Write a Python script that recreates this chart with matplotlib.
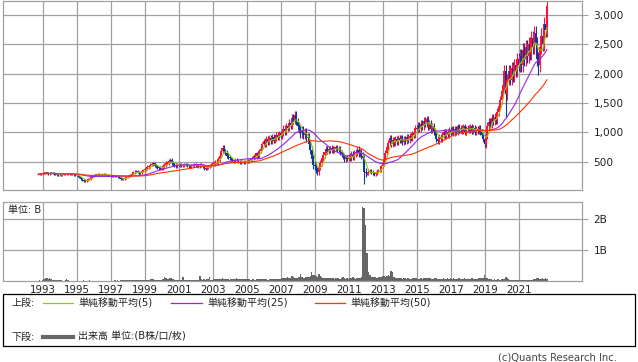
import numpy as np
import pandas as pd
import matplotlib
matplotlib.use('Agg')
import matplotlib.pyplot as plt
from matplotlib.patches import Rectangle
from matplotlib.lines import Line2D

plt.rcParams['font.family'] = ['DejaVu Sans', 'Noto Sans CJK JP']

# ---------------- data (monthly, Sep 1992 - Aug 2022) ----------------
start_year, start_month = 1992, 9

close = [
    285, 295, 290, 300,                                                   # 1992 Sep-Dec
    305, 315, 300, 295, 310, 305, 300, 290, 280, 275, 270, 265,           # 1993
    270, 285, 290, 280, 285, 295, 290, 285, 280, 275, 270, 265,           # 1994
    250, 230, 210, 190, 175, 165, 180, 200, 210, 230, 250, 260,           # 1995
    270, 285, 290, 280, 285, 280, 290, 280, 270, 265, 260, 255,           # 1996
    260, 255, 250, 245, 240, 235, 210, 195, 205, 220, 235, 250,           # 1997
    260, 275, 290, 315, 330, 345, 320, 300, 310, 335, 350, 375,           # 1998
    380, 410, 420, 450, 460, 470, 430, 420, 400, 390, 380, 395,           # 1999
    420, 440, 470, 480, 510, 520, 480, 460, 450, 430, 440, 440,           # 2000
    450, 430, 440, 460, 450, 440, 420, 410, 430, 440, 460, 440,           # 2001
    430, 420, 450, 430, 410, 390, 380, 400, 420, 440, 450, 470,           # 2002
    470, 480, 500, 540, 600, 680, 740, 680, 650, 600, 580, 560,           # 2003
    540, 520, 510, 530, 520, 500, 490, 500, 510, 490, 500, 510,           # 2004
    500, 520, 540, 560, 600, 580, 640, 600, 680, 720, 800, 860,           # 2005
    800, 880, 830, 900, 850, 920, 860, 900, 950, 920, 980, 950,           # 2006
    1000, 1060, 1020, 1100, 1080, 1160, 1120, 1250, 1200, 1300, 1180, 1100,  # 2007
    1050, 980, 1040, 960, 1000, 900, 920, 800, 700, 550, 450, 420,        # 2008
    350, 330, 400, 470, 560, 620, 660, 720, 680, 720, 690, 730,           # 2009
    690, 720, 750, 700, 720, 660, 620, 580, 540, 580, 550, 580,           # 2010
    570, 620, 580, 640, 660, 700, 640, 660, 600, 560, 330, 300,           # 2011
    300, 330, 340, 320, 300, 290, 310, 330, 350, 360, 420, 480,           # 2012
    520, 650, 750, 820, 900, 800, 870, 820, 880, 830, 900, 870,           # 2013
    900, 830, 880, 850, 920, 870, 930, 900, 980, 950, 1080, 1050,         # 2014
    1120, 1060, 1150, 1100, 1200, 1150, 1220, 1100, 1150, 1050, 1100, 1020,  # 2015
    980, 880, 850, 920, 880, 960, 1000, 940, 1000, 960, 1040, 1000,       # 2016
    1050, 980, 1060, 1000, 1100, 1040, 1080, 1020, 1100, 1000, 1060, 1080,  # 2017
    1040, 1100, 1020, 1080, 1000, 1060, 1020, 1080, 1000, 950, 880, 800,  # 2018
    950, 1100, 1180, 1150, 1250, 1200, 1260, 1220, 1350, 1450, 1550, 1700,  # 2019
    1800, 2050, 1650, 1900, 2050, 1900, 2100, 1950, 2150, 2050, 2250, 2150,  # 2020
    2300, 2150, 2400, 2250, 2450, 2300, 2500, 2350, 2600, 2450, 2700, 2500,  # 2021
    2250, 2150, 2450, 2650, 2500, 2850, 2750, 3150,                       # 2022 Jan-Aug
]

# typical wick length beyond the candle body, per year (yen), 1992..2022
wick_years = list(range(1992, 2023))
wick_len = [10, 15, 15, 15, 10, 15, 20, 30, 35, 25, 25, 40, 25, 30, 50, 60,
            70, 50, 40, 60, 30, 50, 50, 60, 50, 50, 50, 70, 100, 120, 120]

# notable wick extremes (year, month): value
wick_high = {(1999, 6): 480, (2000, 7): 557, (2003, 7): 766, (2007, 10): 1330,
             (2015, 7): 1250, (2020, 2): 2150, (2021, 11): 2740, (2022, 8): 3160}
wick_low = {(1995, 6): 150, (2009, 2): 310, (2011, 11): 110, (2018, 12): 750,
            (2020, 3): 1260, (2022, 2): 1980}

# volume in billions
volume_b = [
    0.03, 0.04, 0.03, 0.04,
    0.08, 0.10, 0.10, 0.09, 0.10, 0.08, 0.06, 0.05, 0.05, 0.05, 0.04, 0.04,
    0.04, 0.03, 0.03, 0.06, 0.07, 0.04, 0.03, 0.02, 0.02, 0.02, 0.02, 0.02,
    0.02, 0.02, 0.02, 0.02, 0.04, 0.03, 0.02, 0.03, 0.04, 0.03, 0.02, 0.02,
    0.02, 0.03, 0.03, 0.02, 0.02, 0.03, 0.02, 0.02, 0.03, 0.02, 0.02, 0.02,
    0.02, 0.03, 0.04, 0.03, 0.04, 0.03, 0.04, 0.05, 0.04, 0.05, 0.05, 0.04,
    0.04, 0.04, 0.04, 0.05, 0.05, 0.05, 0.05, 0.06, 0.05, 0.06, 0.06, 0.06,
    0.05, 0.06, 0.05, 0.07, 0.09, 0.07, 0.06, 0.05, 0.05, 0.06, 0.05, 0.06,
    0.08, 0.14, 0.10, 0.08, 0.07, 0.10, 0.12, 0.07, 0.06, 0.06, 0.05, 0.05,
    0.05, 0.05, 0.14, 0.05, 0.05, 0.06, 0.05, 0.05, 0.05, 0.05, 0.05, 0.05,
    0.05, 0.05, 0.17, 0.08, 0.06, 0.07, 0.06, 0.07, 0.07, 0.14, 0.06, 0.06,
    0.07, 0.07, 0.07, 0.08, 0.09, 0.08, 0.10, 0.08, 0.07, 0.07, 0.07, 0.06,
    0.08, 0.07, 0.07, 0.09, 0.10, 0.08, 0.08, 0.07, 0.07, 0.08, 0.09, 0.08,
    0.07, 0.07, 0.06, 0.07, 0.07, 0.06, 0.07, 0.07, 0.08, 0.09, 0.08, 0.07,
    0.07, 0.07, 0.06, 0.07, 0.07, 0.07, 0.07, 0.08, 0.07, 0.08, 0.08, 0.09,
    0.10, 0.12, 0.10, 0.12, 0.14, 0.12, 0.13, 0.18, 0.14, 0.12, 0.11, 0.12,
    0.14, 0.23, 0.16, 0.13, 0.12, 0.14, 0.15, 0.16, 0.18, 0.30, 0.22, 0.20,
    0.18, 0.16, 0.23, 0.18, 0.14, 0.12, 0.10, 0.11, 0.10, 0.10, 0.12, 0.10,
    0.10, 0.09, 0.10, 0.12, 0.10, 0.09, 0.10, 0.14, 0.10, 0.09, 0.10, 0.09,
    0.10, 0.12, 0.15, 0.10, 0.09, 0.10, 0.13, 0.12, 0.15, 2.37, 2.35, 1.80,
    0.90, 0.30, 0.20, 0.16, 0.15, 0.14, 0.15, 0.13, 0.14, 0.16, 0.15, 0.18,
    0.17, 0.16, 0.18, 0.20, 0.18, 0.33, 0.30, 0.15, 0.12, 0.11, 0.10, 0.10,
    0.10, 0.09, 0.11, 0.12, 0.09, 0.10, 0.09, 0.08, 0.11, 0.10, 0.10, 0.10,
    0.09, 0.08, 0.10, 0.09, 0.10, 0.10, 0.10, 0.11, 0.10, 0.10, 0.09, 0.09,
    0.10, 0.11, 0.09, 0.08, 0.09, 0.08, 0.10, 0.09, 0.09, 0.10, 0.09, 0.10,
    0.09, 0.10, 0.09, 0.08, 0.09, 0.10, 0.09, 0.09, 0.08, 0.10, 0.09, 0.09,
    0.08, 0.09, 0.10, 0.09, 0.08, 0.09, 0.09, 0.10, 0.10, 0.12, 0.13, 0.20,
    0.13, 0.10, 0.08, 0.07, 0.07, 0.06, 0.07, 0.06, 0.07, 0.07, 0.06, 0.07,
    0.07, 0.09, 0.15, 0.10, 0.07, 0.06, 0.06, 0.06, 0.06, 0.06, 0.06, 0.06,
    0.06, 0.06, 0.05, 0.06, 0.06, 0.06, 0.05, 0.06, 0.06, 0.06, 0.07, 0.09,
    0.13, 0.11, 0.08, 0.07, 0.10, 0.08, 0.10, 0.08,
]

ma_windows = [5, 25, 50]
ma_labels = ['単純移動平均(5)', '単純移動平均(25)', '単純移動平均(50)']
ma_colors = ['#99cc00', '#9922ee', '#ff3300']
year_ticks = list(range(1993, 2022, 2))
price_ticks = [500, 1000, 1500, 2000, 2500, 3000]
vol_ticks = [1, 2]
vol_tick_labels = ['1B', '2B']

# ---------------- figure ----------------
W, H = 638, 362
fig = plt.figure(figsize=(W / 100, H / 100), dpi=100)
fig.patch.set_facecolor('white')

def ax_rect(x0, y0, x1, y1):
    return [x0 / W, 1 - y1 / H, (x1 - x0) / W, (y1 - y0) / H]

ax = fig.add_axes(ax_rect(3.3, 0.7, 582.3, 190.3))
axv = fig.add_axes(ax_rect(3.3, 201.7, 582.3, 280.5))

n = len(close)
yrs, mos = [], []
y, m = start_year, start_month
for i in range(n):
    yrs.append(y); mos.append(m)
    m += 1
    if m > 12:
        m = 1; y += 1
xs = np.array([yy + (mm - 1) / 12 + 1 / 24 for yy, mm in zip(yrs, mos)])
c = np.array(close, dtype=float)
o = np.concatenate([[c[0]], c[:-1]])
wl = dict(zip(wick_years, wick_len))
hi = np.array([max(a, b) + wl[yy] for a, b, yy in zip(o, c, yrs)])
lo = np.array([min(a, b) - wl[yy] for a, b, yy in zip(o, c, yrs)])
for i, (yy, mm) in enumerate(zip(yrs, mos)):
    if (yy, mm) in wick_high:
        hi[i] = max(hi[i], wick_high[(yy, mm)])
    if (yy, mm) in wick_low:
        lo[i] = min(lo[i], wick_low[(yy, mm)])

grid_c = '#a0a0a0'
up_c, dn_c = '#ff1040', '#0a3a9e'
for a in (ax, axv):
    a.set_xlim(1990.647, 2024.706)
    for s in a.spines.values():
        s.set_color(grid_c)
        s.set_linewidth(0.9)
    a.set_facecolor('white')
    for yt in year_ticks:
        a.axvline(yt, color=grid_c, lw=0.9, zorder=0)

ax.set_ylim(11, 3244)
for pt in price_ticks:
    ax.axhline(pt, color=grid_c, lw=0.9, zorder=0)

cols = np.where(c >= o, up_c, dn_c)
ax.vlines(xs, lo, hi, colors=cols, lw=0.8, zorder=2)
body_h = np.maximum(np.abs(c - o), 8)
ax.bar(xs, body_h, bottom=np.minimum(o, c), width=1 / 12 * 1.5,
       color=cols, linewidth=0, zorder=2)

s = pd.Series(c)
for w, col in zip(ma_windows, ma_colors):
    ma = s.rolling(w, min_periods=1).mean()
    ax.plot(xs, ma, color=col, lw=0.8, zorder=3)

ax.yaxis.tick_right()
ax.set_yticks(price_ticks)
ax.set_yticklabels([f'{v:,}' for v in price_ticks])
ax.tick_params(axis='y', length=4, width=0.8, color=grid_c, pad=4, labelsize=7.6, labelcolor='#222222')
ax.set_xticks([])

# volume
axv.bar(xs, volume_b, width=1 / 12, color='#666666', linewidth=0, zorder=2)
axv.set_ylim(0.035, 2.553)
for vt in vol_ticks:
    axv.axhline(vt, color=grid_c, lw=0.9, zorder=0)
axv.yaxis.tick_right()
axv.set_yticks(vol_ticks)
axv.set_yticklabels(vol_tick_labels)
axv.tick_params(axis='y', length=4, width=0.8, color=grid_c, pad=4, labelsize=7.6, labelcolor='#222222')
axv.set_xticks(year_ticks)
axv.set_xticklabels([str(t) for t in year_ticks])
axv.tick_params(axis='x', length=0, pad=3.5, labelsize=7.4, labelcolor='#222222')

def fx(px):
    return px / W

def fy(py):
    return 1 - py / H

fig.text(fx(8), fy(210), '単位: B', fontsize=7.2, color='#222222', va='center', ha='left')

# legend box
fig.add_artist(Rectangle((fx(3.3), fy(345.7)), fx(635.3) - fx(3.3), fy(294.3) - fy(345.7),
                         transform=fig.transFigure, fill=False, edgecolor='black', lw=0.9))
fig.text(fx(11.5), fy(303.3), '上段:', fontsize=7.2, va='center', ha='left', color='#222222')
leg_x = [(43, 73, 78), (171, 202, 207), (315, 345, 350)]
for (x0, x1, tx), col, lab in zip(leg_x, ma_colors, ma_labels):
    fig.add_artist(Line2D([fx(x0), fx(x1)], [fy(303.3), fy(303.3)], transform=fig.transFigure,
                          color=col, lw=0.9))
    fig.text(fx(tx), fy(303.3), lab, fontsize=7.2, va='center', ha='left', color='#222222')
fig.text(fx(11.5), fy(336.7), '下段:', fontsize=7.2, va='center', ha='left', color='#222222')
fig.add_artist(Line2D([fx(43), fx(73)], [fy(336.7), fy(336.7)], transform=fig.transFigure,
                      color='#666666', lw=3))
fig.text(fx(78), fy(336.7), '出来高 単位:(B株/口/枚)', fontsize=7.2, va='center', ha='left', color='#222222')

fig.text(fx(617), fy(357.5), '(c)Quants Research Inc.', fontsize=7.2, va='center', ha='right', color='#444444')

fig.savefig('out.png', dpi=100, facecolor='white')
